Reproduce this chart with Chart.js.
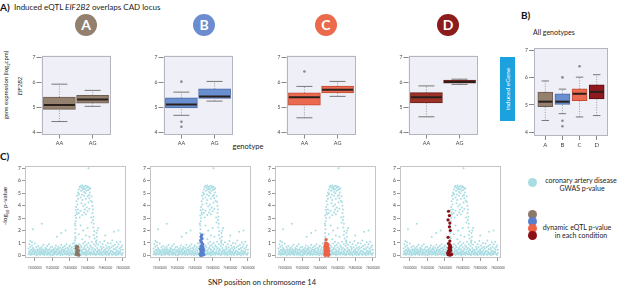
<!DOCTYPE html>
<html lang="en">
<head>
<meta charset="UTF-8">
<title>Induced eQTL EIF2B2 overlaps CAD locus</title>
<script src="https://cdn.jsdelivr.net/npm/chart.js"></script>
<style>
    body { margin: 0; background: #ffffff; font-family: Lato, "Open Sans", sans-serif; color: #222; }
    #page { position: relative; width: 617px; height: 287px; overflow: hidden; }
    #page canvas, .lbl, .badge, .dot { position: absolute; }
    .lbl { white-space: nowrap; line-height: 1; }
    .panel { font-weight: bold; font-size: 10px; color: #111; }
    .badge { width: 22px; height: 22px; border-radius: 50%; color: #fff; font-weight: bold; font-size: 14px; line-height: 22px; text-align: center; }
    .dot { width: 9px; height: 9px; border-radius: 50%; }
    .rot { transform: translate(-50%, -50%) rotate(-90deg); text-align: center; }
    .ctr { transform: translate(-50%, -50%); text-align: center; }
</style>
</head>
<body>
<div id="page">
    <div class="lbl panel" style="left:0;top:2px;">A)</div>
    <div class="lbl" style="left:14px;top:3px;font-size:8px;">Induced eQTL <i>EIF2B2</i> overlaps CAD locus</div>
    <div class="lbl panel" style="left:521px;top:10px;">B)</div>
    <div class="lbl" style="left:533px;top:29px;font-size:7px;">All genotypes</div>
    <div class="lbl panel" style="left:0;top:151px;">C)</div>

    <div class="badge" style="left:75px;top:14px;background:#93806e;">A</div>
    <div class="badge" style="left:193px;top:14px;background:#6b8dd0;">B</div>
    <div class="badge" style="left:315px;top:14px;background:#ea6a4b;">C</div>
    <div class="badge" style="left:437px;top:14px;background:#8c1b1d;">D</div>

    <div class="lbl rot" style="left:7px;top:85px;font-size:6px;">gene expression (log<sub style="font-size:4px;">2</sub>cpm)</div>
    <div class="lbl rot" style="left:20px;top:86px;font-size:6px;"><i>EIF2B2</i></div>
    <div class="lbl ctr" style="left:248px;top:147px;font-size:7.5px;">genotype</div>
    <div style="position:absolute;left:500px;top:57px;width:15px;height:64px;background:#1ba1dd;"></div>
    <div class="lbl rot" style="left:507.5px;top:89px;font-size:6.5px;color:#fff;">induced eGene</div>

    <div class="lbl rot" style="left:6px;top:206px;font-size:6.5px;">-log<sub style="font-size:4px;">10</sub> p-value</div>
    <div class="lbl ctr" style="left:262px;top:283px;font-size:7.5px;">SNP position on chromosome 14</div>

    <div class="dot" style="left:528px;top:178px;background:#a9dce3;"></div>
    <div class="lbl ctr" style="left:581px;top:180px;font-size:7px;">coronary artery disease</div>
    <div class="lbl ctr" style="left:582px;top:188px;font-size:7px;">GWAS p-value</div>
    <div class="dot" style="left:528px;top:210px;background:#8b7866;"></div>
    <div class="dot" style="left:528px;top:217px;background:#5a7fcc;"></div>
    <div class="dot" style="left:528px;top:224px;background:#ee6347;"></div>
    <div class="dot" style="left:528px;top:231px;background:#8b0f14;"></div>
    <div class="lbl ctr" style="left:577px;top:227px;font-size:7px;">dynamic eQTL p-value</div>
    <div class="lbl ctr" style="left:581px;top:235px;font-size:7px;">in each condition</div>

    <canvas id="boxA" width="104" height="114" style="left:24px;top:38px;"></canvas>
    <canvas id="boxB" width="104" height="114" style="left:146px;top:38px;"></canvas>
    <canvas id="boxC" width="104" height="114" style="left:269px;top:38px;"></canvas>
    <canvas id="boxD" width="104" height="114" style="left:391px;top:38px;"></canvas>
    <canvas id="boxAll" width="98" height="113" style="left:519px;top:39px;"></canvas>

    <canvas id="gwasA" width="122" height="110" style="left:13px;top:162px;"></canvas>
    <canvas id="gwasB" width="122" height="110" style="left:138px;top:162px;"></canvas>
    <canvas id="gwasC" width="122" height="110" style="left:263px;top:162px;"></canvas>
    <canvas id="gwasD" width="122" height="110" style="left:388px;top:162px;"></canvas>
</div>

<script>
    // box stats: [lower whisker, q1, median, q3, upper whisker]
    const genotypes = ['AA', 'AG'];
    const conditions = ['A', 'B', 'C', 'D'];

    const statsA = [[4.42, 4.91, 5.08, 5.40, 5.92], [5.03, 5.16, 5.30, 5.47, 5.67]];
    const statsB = [[4.67, 4.97, 5.10, 5.37, 5.60], [5.24, 5.35, 5.42, 5.73, 6.03]];
    const statsC = [[4.57, 5.08, 5.39, 5.57, 5.83], [5.43, 5.57, 5.70, 5.84, 6.03]];
    const statsD = [[4.61, 5.17, 5.39, 5.58, 5.85], [5.91, 5.96, 6.01, 6.08, 6.12]];
    const outliersB = [[1, 6.02], [1, 4.41], [1, 4.21]];
    const outliersC = [[1, 6.43]];

    const statsAll = [
        [4.43, 4.94, 5.12, 5.47, 5.88],
        [4.68, 5.02, 5.12, 5.41, 5.58],
        [4.56, 5.16, 5.41, 5.59, 6.02],
        [4.61, 5.22, 5.48, 5.74, 6.11]
    ];
    const outliersAll = [[2, 6.01], [2, 4.42], [2, 4.22], [3, 6.42]];

    const boxFill = ['#93806e', '#6a8fd0', '#ec6a4f', '#9c3128'];
    const boxEdge = ['#6e5e50', '#4b6aa8', '#c24d36', '#6e1c18'];
    const allFill = ['#93806e', '#6a8fd0', '#ec6a4f', '#8e1a1e'];
    const allEdge = ['#6e5e50', '#4b6aa8', '#c24d36', '#5e0c10'];

    // GWAS CAD p-values (x in Mb on chr14, y = -log10 p)
    const posTicks = ['75000000', '75200000', '75400000', '75600000', '75800000', '76000000'];
    const gwasBand = [
        [74.93,0.10],[74.93,0.55],[74.94,0.30],[74.94,0.90],[74.95,0.05],[74.95,0.70],[74.95,1.15],[74.96,0.20],[74.96,0.45],[74.97,0.12],[74.97,0.80],[74.97,1.05],
        [74.98,0.35],[74.98,0.60],[74.99,0.08],[74.99,0.50],[75.00,0.25],[75.00,0.95],[75.01,0.15],[75.01,0.40],[75.02,0.02],[75.02,0.65],[75.03,0.30],[75.03,0.50],
        [75.04,0.10],[75.04,0.75],[75.05,0.22],[75.05,0.45],[75.06,0.05],[75.06,0.60],[75.07,0.18],[75.07,0.35],[75.08,0.28],[75.08,0.70],[75.09,0.10],[75.09,0.50],
        [75.10,0.20],[75.10,0.85],[75.11,0.04],[75.11,0.40],[75.12,0.30],[75.12,0.60],[75.13,0.12],[75.13,0.55],[75.14,0.20],[75.14,0.75],[75.15,0.06],[75.15,0.45],
        [75.16,0.25],[75.16,0.90],[75.17,0.15],[75.17,0.50],[75.18,0.02],[75.18,0.65],[75.19,0.30],[75.19,0.40],[75.20,0.10],[75.20,0.70],[75.21,0.22],[75.21,0.50],
        [75.22,0.08],[75.22,0.35],[75.23,0.18],[75.23,0.60],[75.24,0.30],[75.24,0.80],[75.25,0.05],[75.25,0.45],[75.26,0.25],[75.26,0.55],[75.27,0.12],[75.27,0.70],
        [75.28,0.20],[75.28,0.40],[75.29,0.03],[75.29,0.60],[75.30,0.28],[75.30,0.85],[75.31,0.15],[75.31,0.50],[75.32,0.07],[75.32,0.65],[75.33,0.30],[75.33,0.45],
        [75.34,0.10],[75.34,0.75],[75.35,0.20],[75.35,0.55],[75.36,0.05],[75.36,0.90],[75.37,0.25],[75.37,0.60],[75.38,0.14],[75.38,0.40],[75.39,0.02],[75.39,0.70],
        [75.40,0.30],[75.40,0.80],[75.41,0.18],[75.41,0.50],[75.42,0.08],[75.42,0.65],[75.43,0.22],[75.43,0.95],[75.44,0.12],[75.44,0.55],[75.45,0.04],[75.45,0.75],
        [75.46,0.28],[75.46,0.60],[75.47,0.16],[75.47,0.85],[75.48,0.06],[75.48,0.50],[75.49,0.24],[75.49,0.70],[75.50,0.10],[75.50,0.90],[75.51,0.20],[75.51,0.55],
        [75.52,0.03],[75.52,0.80],[75.53,0.30],[75.53,0.65],[75.54,0.14],[75.54,0.45],[75.55,0.08],[75.55,0.95],[75.56,0.26],[75.56,0.60],[75.57,0.12],[75.57,0.75],
        [75.58,0.02],[75.58,0.50],[75.59,0.20],[75.59,0.85],[75.60,0.30],[75.60,0.65],[75.61,0.10],[75.61,1.00],[75.62,0.22],[75.62,0.55],[75.63,0.05],[75.63,0.80],
        [75.64,0.28],[75.64,0.70],[75.65,0.15],[75.65,1.10],[75.66,0.08],[75.66,0.60],[75.67,0.25],[75.67,0.90],[75.68,0.12],[75.68,0.50],[75.69,0.03],[75.69,0.75],
        [75.70,0.20],[75.70,0.95],[75.71,0.30],[75.71,0.60],[75.72,0.10],[75.72,0.85],[75.73,0.18],[75.73,0.45],[75.74,0.06],[75.74,1.05],[75.75,0.25],[75.75,0.70],
        [75.76,0.14],[75.76,0.55],[75.77,0.02],[75.77,0.90],[75.78,0.30],[75.78,0.65],[75.79,0.10],[75.79,1.15],[75.80,0.22],[75.80,0.50],[75.81,0.08],[75.81,0.80],
        [75.82,0.26],[75.82,0.60],[75.83,0.15],[75.83,1.00],[75.84,0.04],[75.84,0.70],[75.85,0.20],[75.85,0.55],[75.86,0.30],[75.86,0.95],[75.87,0.12],[75.87,0.65],
        [75.88,0.06],[75.88,1.20],[75.89,0.24],[75.89,0.75],[75.90,0.10],[75.90,0.50],[75.91,0.18],[75.91,0.85],[75.92,0.02],[75.92,0.60],[75.93,0.28],[75.93,1.05],
        [75.94,0.14],[75.94,0.70],[75.95,0.08],[75.95,0.90],[75.96,0.22],[75.96,0.55],[75.97,0.30],[75.97,1.10],[75.98,0.12],[75.98,0.65],[75.99,0.05],[75.99,0.80],
        [76.00,0.20],[76.00,0.45]
    ];
    const gwasBandLow = [
        [74.935,0.32],[74.945,0.18],[74.955,0.40],[74.965,0.08],[74.975,0.27],[74.985,0.45],[74.995,0.14],[75.005,0.36],[75.015,0.22],[75.025,0.05],
        [75.035,0.41],[75.045,0.16],[75.055,0.30],[75.065,0.09],[75.075,0.48],[75.085,0.20],[75.095,0.35],[75.105,0.12],[75.115,0.26],[75.125,0.43],
        [75.135,0.07],[75.145,0.33],[75.155,0.19],[75.165,0.46],[75.175,0.11],[75.185,0.29],[75.195,0.38],[75.205,0.04],[75.215,0.24],[75.225,0.42],
        [75.235,0.15],[75.245,0.34],[75.255,0.09],[75.265,0.47],[75.275,0.21],[75.285,0.31],[75.295,0.13],[75.305,0.39],[75.315,0.06],[75.325,0.28],
        [75.335,0.44],[75.345,0.17],[75.355,0.36],[75.365,0.10],[75.375,0.25],[75.385,0.49],[75.395,0.14],[75.405,0.32],[75.415,0.08],[75.425,0.40],
        [75.435,0.23],[75.445,0.12],[75.455,0.37],[75.465,0.05],[75.475,0.30],[75.485,0.45],[75.495,0.18],[75.505,0.27],[75.515,0.41],[75.525,0.09],
        [75.535,0.34],[75.545,0.20],[75.555,0.47],[75.565,0.13],[75.575,0.26],[75.585,0.38],[75.595,0.07],[75.605,0.31],[75.615,0.43],[75.625,0.16],
        [75.635,0.24],[75.645,0.48],[75.655,0.11],[75.665,0.35],[75.675,0.19],[75.685,0.42],[75.695,0.06],[75.705,0.29],[75.715,0.39],[75.725,0.14],
        [75.735,0.33],[75.745,0.21],[75.755,0.46],[75.765,0.10],[75.775,0.27],[75.785,0.40],[75.795,0.17],[75.805,0.36],[75.815,0.05],[75.825,0.30],
        [75.835,0.44],[75.845,0.12],[75.855,0.25],[75.865,0.38],[75.875,0.08],[75.885,0.32],[75.895,0.49],[75.905,0.15],[75.915,0.22],[75.925,0.41],
        [75.935,0.10],[75.945,0.35],[75.955,0.18],[75.965,0.28],[75.975,0.45],[75.985,0.07]
    ];
    const gwasPeak = [
        [75.49,5.05],[75.50,5.30],[75.51,5.50],[75.52,5.60],[75.525,5.20],[75.53,5.45],[75.54,5.62],[75.545,5.30],[75.55,5.50],[75.56,5.10],[75.565,5.55],
        [75.57,5.35],[75.58,5.60],[75.585,5.20],[75.59,5.45],[75.60,5.55],[75.605,5.25],[75.61,5.50],[75.62,5.35],[75.625,5.05],[75.63,5.40],[75.50,4.95],
        [75.535,4.90],[75.575,5.00],[75.615,4.85],[75.555,5.35],
        [75.48,4.80],[75.49,4.55],[75.50,4.90],[75.52,4.65],[75.54,4.45],[75.56,4.80],[75.58,4.55],[75.60,4.75],[75.62,4.60],[75.635,4.40],[75.645,4.75],
        [75.53,4.20],[75.57,4.10],[75.61,4.25],[75.55,3.95],[75.59,3.85],[75.65,4.30],[75.475,4.35],[75.485,4.10],
        [75.47,3.90],[75.465,3.65],[75.475,3.45],[75.46,3.20],[75.47,3.00],[75.465,2.75],[75.455,2.55],[75.48,3.30],[75.49,3.70],[75.50,3.40],
        [75.52,3.60],[75.54,3.25],[75.56,3.45],[75.58,3.30],[75.60,3.55],[75.62,3.75],[75.51,3.05],[75.57,3.70],
        [75.655,4.00],[75.66,3.70],[75.655,3.40],[75.665,3.10],[75.66,2.85],[75.67,2.55],[75.665,2.25],[75.675,1.95],[75.67,1.65],[75.68,1.35],[75.64,3.05],[75.645,2.65],
        [75.455,1.20],[75.46,1.50],[75.458,1.80],[75.462,2.10],[75.46,2.40],[75.45,1.00],[75.465,1.35],
        [75.52,2.40],[75.55,2.00],[75.58,1.60],[75.60,2.20],[75.54,1.30],[75.57,1.10],[75.62,1.50],[75.50,1.70],
        [75.70,1.20],[75.705,1.50],[75.70,1.80],[75.71,2.00],[75.695,1.10]
    ];
    const gwasSparse = [
        [75.08,2.55],[74.98,2.10],[75.30,1.80],[75.25,1.50],[75.35,2.00],[75.80,1.60],[75.90,1.90],[75.95,2.00],[75.72,2.20],[75.61,7.00]
    ];

    // dynamic eQTL p-values per condition
    const eqtlA = [[75.475,0.72],[75.48,0.65],[75.49,0.68],[75.47,0.55],[75.485,0.45],[75.495,0.40],[75.475,0.30],[75.49,0.22],[75.47,0.10],[75.48,0.05],[75.495,0.08],[75.485,0.15],[75.50,0.02]];
    const eqtlB = [[75.475,1.65],[75.47,1.50],[75.48,1.35],[75.465,1.20],[75.475,1.05],[75.485,0.90],[75.47,0.75],[75.48,0.60],[75.49,0.55],[75.465,0.45],[75.475,0.40],[75.495,0.35],
        [75.485,0.30],[75.47,0.25],[75.48,0.20],[75.49,0.15],[75.46,0.10],[75.475,0.05],[75.50,0.08],[75.465,0.00],[75.485,0.02],[75.495,0.45],[75.46,0.55],[75.49,0.70]];
    const eqtlC = [[75.47,1.27],[75.465,1.00],[75.48,0.95],[75.46,0.85],[75.475,0.80],[75.49,0.85],[75.455,0.70],[75.47,0.65],[75.485,0.70],[75.495,0.60],[75.46,0.55],[75.475,0.50],
        [75.49,0.45],[75.455,0.40],[75.47,0.35],[75.485,0.30],[75.50,0.35],[75.46,0.25],[75.475,0.20],[75.49,0.15],[75.455,0.10],[75.47,0.05],[75.485,0.05],[75.50,0.10],[75.46,0.00],[75.495,0.00]];
    const eqtlD = [[75.44,3.55],[75.45,3.20],[75.435,2.85],[75.455,2.60],[75.45,2.30],[75.46,2.00],[75.435,1.45],[75.455,1.15],[75.44,0.95],[75.45,0.88],[75.46,0.80],[75.455,0.72],
        [75.465,0.65],[75.445,0.60],[75.46,0.55],[75.45,0.45],[75.465,0.40],[75.44,0.35],[75.43,0.20],[75.44,0.15],[75.45,0.10],[75.46,0.12],[75.47,0.05],[75.435,0.05],[75.455,0.02],[75.475,0.10],[75.445,0.25]];
    const eqtlColors = ['#8b7866', '#5a7fcc', '#ee6347', '#8b0f14'];
    const gwasColor = '#a9dce3';

    Chart.defaults.font.family = 'Lato, "Open Sans", sans-serif';
    Chart.defaults.color = '#555';
    Chart.defaults.animation = false;
    Chart.defaults.events = [];

    // plot frame (R style box around the panel)
    const framePlugin = {
        id: 'frame',
        beforeDatasetsDraw(chart, args, opts) {
            const a = chart.chartArea;
            if (opts.fill) {
                chart.ctx.save();
                chart.ctx.fillStyle = opts.fill;
                chart.ctx.fillRect(a.left, a.top, a.right - a.left, a.bottom - a.top);
                chart.ctx.restore();
            }
        },
        afterDraw(chart, args, opts) {
            const a = chart.chartArea;
            const ctx = chart.ctx;
            ctx.save();
            ctx.strokeStyle = opts.stroke || '#bbb';
            ctx.lineWidth = 1;
            ctx.strokeRect(Math.round(a.left) + 0.5, Math.round(a.top) + 0.5, Math.round(a.right - a.left) - 1, Math.round(a.bottom - a.top) - 1);
            ctx.restore();
        }
    };
    Chart.register(framePlugin);

    function boxDatasets(stats, fills, edges, width) {
        const ds = [];
        stats.forEach((s, i) => {
            ds.push({ type: 'line', data: [{ x: i + 1, y: s[0] }, { x: i + 1, y: s[1] }], borderColor: '#9a9a9a', borderWidth: 1, borderDash: [1, 1.5], pointRadius: 0, order: 4 });
            ds.push({ type: 'line', data: [{ x: i + 1, y: s[3] }, { x: i + 1, y: s[4] }], borderColor: '#9a9a9a', borderWidth: 1, borderDash: [1, 1.5], pointRadius: 0, order: 4 });
        });
        ds.push({
            type: 'bar',
            data: stats.map((s, i) => ({ x: i + 1, y: [s[1], s[3]] })),
            backgroundColor: fills, borderColor: edges, borderWidth: 1, borderSkipped: false,
            barThickness: width, order: 2
        });
        ds.push({
            type: 'scatter',
            data: stats.map((s, i) => ({ x: i + 1, y: s[0] })).concat(stats.map((s, i) => ({ x: i + 1, y: s[4] }))),
            pointStyle: 'line', pointRadius: width / 4, pointBorderColor: '#777', pointBorderWidth: 1, order: 1
        });
        ds.push({
            type: 'scatter',
            data: stats.map((s, i) => ({ x: i + 1, y: s[2] })),
            pointStyle: 'line', pointRadius: width / 2 - 0.5, pointBorderColor: '#2a201c', pointBorderWidth: 2, order: 0
        });
        return ds;
    }

    function outlierDataset(points) {
        return {
            type: 'scatter', data: points.map(p => ({ x: p[0], y: p[1] })),
            pointRadius: 1.3, pointBackgroundColor: '#8a8a8a', pointBorderWidth: 0, order: 1
        };
    }

    function makeBoxChart(id, stats, outliers, fills, edges, width, labels, xMin, xMax, yMin, yMax, tickFont) {
        const datasets = boxDatasets(stats, fills, edges, width);
        if (outliers.length) datasets.push(outlierDataset(outliers));
        new Chart(document.getElementById(id), {
            type: 'bar',
            data: { datasets: datasets },
            options: {
                responsive: false,
                layout: { padding: { top: 3, right: 1, left: 0, bottom: 0 } },
                plugins: { legend: { display: false }, tooltip: { enabled: false }, frame: { fill: '#efeff7', stroke: '#b5b5bf' } },
                scales: {
                    x: {
                        type: 'linear', min: xMin, max: xMax, offset: false,
                        afterFit: s => { s.height = 16; },
                        grid: { offset: false, drawOnChartArea: false, tickLength: 4, color: '#888' },
                        border: { display: false },
                        ticks: { stepSize: 1, includeBounds: false, autoSkip: false, maxRotation: 0, padding: 1, font: { size: tickFont }, color: '#444',
                            callback: v => labels[Math.round(v) - 1] || '' }
                    },
                    y: {
                        min: yMin, max: yMax,
                        afterFit: s => { s.width = 15; },
                        grid: { drawOnChartArea: false, tickLength: 5, color: '#888' },
                        border: { display: false },
                        ticks: { stepSize: 1, includeBounds: false, padding: 1, font: { size: 5 }, color: '#444' }
                    }
                }
            }
        });
    }

    makeBoxChart('boxA', statsA, [], boxFill[0], boxEdge[0], 32, genotypes, 0.46, 2.54, 3.9, 7.07, 5.5);
    makeBoxChart('boxB', statsB, outliersB, boxFill[1], boxEdge[1], 32, genotypes, 0.46, 2.54, 3.9, 7.07, 5.5);
    makeBoxChart('boxC', statsC, outliersC, boxFill[2], boxEdge[2], 32, genotypes, 0.46, 2.54, 3.9, 7.07, 5.5);
    makeBoxChart('boxD', statsD, [], boxFill[3], boxEdge[3], 32, genotypes, 0.46, 2.54, 3.9, 7.07, 5.5);
    makeBoxChart('boxAll', statsAll, outliersAll, allFill, allEdge, 15, conditions, 0.34, 4.66, 3.86, 7.09, 6);

    function makeGwasChart(id, eqtl, color) {
        const gwas = gwasBand.concat(gwasBandLow, gwasPeak, gwasSparse);
        new Chart(document.getElementById(id), {
            type: 'scatter',
            data: {
                datasets: [
                    { data: eqtl.map(p => ({ x: p[0], y: p[1] })), pointRadius: 1.6, pointBackgroundColor: color, pointBorderWidth: 0, order: 0 },
                    { data: gwas.map(p => ({ x: p[0], y: p[1] })), pointRadius: 1.0, pointBackgroundColor: gwasColor, pointBorderWidth: 0, order: 1 }
                ]
            },
            options: {
                responsive: false,
                layout: { padding: { top: 2, right: 2, left: 0, bottom: 0 } },
                plugins: { legend: { display: false }, tooltip: { enabled: false }, frame: { stroke: '#c4c4c4' } },
                scales: {
                    x: {
                        min: 74.89, max: 76.04,
                        afterFit: s => { s.height = 14; },
                        grid: { drawOnChartArea: false, tickLength: 3, color: '#999' },
                        border: { display: false },
                        ticks: { stepSize: 0.2, includeBounds: false, autoSkip: false, maxRotation: 0, padding: 5, font: { size: 3 }, color: '#555',
                            callback: (v, i) => posTicks[i] }
                    },
                    y: {
                        min: -0.21, max: 7.19,
                        afterFit: s => { s.width = 12; },
                        grid: { drawOnChartArea: false, tickLength: 3, color: '#999' },
                        border: { display: false },
                        ticks: { stepSize: 1, includeBounds: false, padding: 1, font: { size: 5 }, color: '#444' }
                    }
                }
            }
        });
    }

    makeGwasChart('gwasA', eqtlA, eqtlColors[0]);
    makeGwasChart('gwasB', eqtlB, eqtlColors[1]);
    makeGwasChart('gwasC', eqtlC, eqtlColors[2]);
    makeGwasChart('gwasD', eqtlD, eqtlColors[3]);
</script>
</body>
</html>
